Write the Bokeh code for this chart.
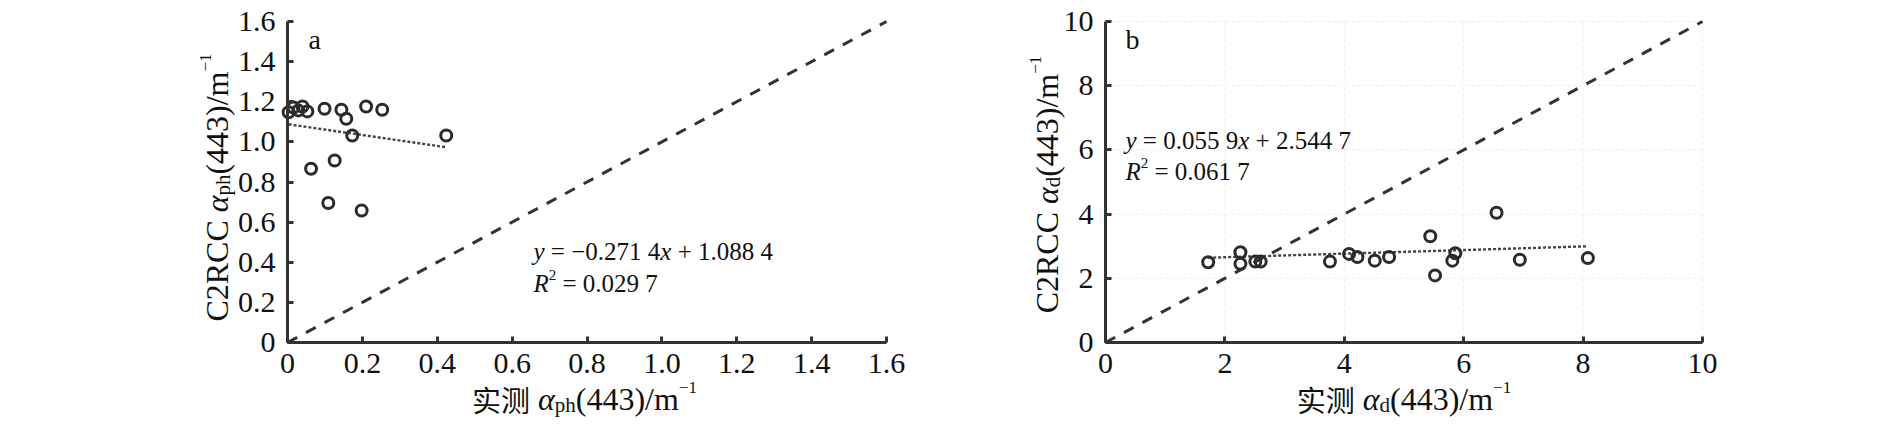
import math
from bokeh.plotting import figure
from bokeh.models import Label, FixedTicker, Range1d, NumeralTickFormatter
from bokeh.layouts import row
from bokeh.embed import file_html
from bokeh.resources import INLINE

# ---------------- data ----------------
# panel a: phytoplankton absorption a_ph(443)
aph_measured = [0.003, 0.016, 0.029, 0.040, 0.053, 0.099, 0.144, 0.157, 0.210, 0.253,
                0.173, 0.424, 0.063, 0.126, 0.109, 0.198]
aph_c2rcc = [1.148, 1.171, 1.157, 1.176, 1.152, 1.165, 1.160, 1.115, 1.176, 1.160,
             1.032, 1.032, 0.866, 0.907, 0.695, 0.658]
aph_fit = (-0.2714, 1.0884)
aph_r2 = "0.029 7"
aph_ticks = [0, 0.2, 0.4, 0.6, 0.8, 1.0, 1.2, 1.4, 1.6]

# panel b: detritus absorption a_d(443)
ad_measured = [1.72, 2.26, 2.26, 2.51, 2.60, 3.76, 4.08, 4.22, 4.51, 4.75,
               5.44, 5.52, 5.81, 5.86, 6.55, 6.94, 8.08]
ad_c2rcc = [2.50, 2.81, 2.45, 2.52, 2.52, 2.52, 2.76, 2.66, 2.55, 2.66,
            3.31, 2.09, 2.55, 2.78, 4.04, 2.58, 2.63]
ad_fit = (0.0559, 2.5447)
ad_r2 = "0.061 7"
ad_ticks = [0, 2, 4, 6, 8, 10]

INK = "#333333"
TXT = "#111111"
SERIF = "Liberation Serif"
CJK = "Noto Sans CJK SC"
NB = "\u00a0"
H = 430

REG = {' ': 0.25, NB: 0.25, '.': 0.25, '=': 0.564, '+': 0.564, '\u2212': 0.564,
       '(': 0.333, ')': 0.333, '/': 0.278, 'm': 0.778, 'p': 0.5, 'h': 0.5, 'd': 0.5,
       'C': 0.667, 'R': 0.667, 'a': 0.444, 'b': 0.5}
ITA = {'y': 0.444, 'x': 0.444, 'R': 0.611, '\u03b1': 0.52}


def seg_width(s, size, italic):
    w = 0.0
    for ch in s:
        if '\u4e00' <= ch <= '\u9fff':
            w += 1.0
        elif ch.isdigit():
            w += 0.5
        elif italic and ch in ITA:
            w += ITA[ch]
        else:
            w += REG.get(ch, 0.5)
    return w * size


def total_width(segs):
    return sum(seg_width(t, sz, it) for t, sz, it, sh, fn in segs)


def compose(p, segs, dx, dy, vertical=False):
    cum = 0.0
    for t, sz, it, sh, fn in segs:
        if vertical:
            xo, yo, ang = dx - sh, dy + cum, math.pi / 2
        else:
            xo, yo, ang = dx + cum, dy + sh, 0
        p.add_layout(Label(x=0, y=0, x_units="data", y_units="data",
                           x_offset=xo, y_offset=yo, text=t.replace(" ", NB), angle=ang,
                           text_font=fn, text_font_size=f"{sz}px",
                           text_font_style="italic" if it else "normal",
                           text_baseline="alphabetic", text_align="left",
                           text_color=TXT))
        cum += seg_width(t, sz, it)


F, S, U = 32, 21, 17


def ylabel_segs(sub):
    return [("C2RCC ", F, False, 0, SERIF), ("\u03b1", F, True, 0, SERIF),
            (sub, S, False, -6, SERIF), ("(443)/m", F, False, 0, SERIF),
            ("\u22121", U, False, 11, SERIF)]


def xlabel_segs(sub):
    return [("\u5b9e\u6d4b", 29, False, 0, CJK), (" ", F, False, 0, SERIF),
            ("\u03b1", F, True, 0, SERIF), (sub, S, False, -6, SERIF),
            ("(443)/m", F, False, 0, SERIF), ("\u22121", U, False, 11, SERIF)]


def style_axes(p, ticks, top, fmt=None, overrides=None):
    for ax in (p.xaxis[0], p.yaxis[0]):
        ax.ticker = FixedTicker(ticks=ticks)
        ax.fixed_location = 0
        ax.bounds = (0, top)
        if fmt is not None:
            ax.formatter = fmt
        if overrides:
            ax.major_label_overrides = overrides
        ax.axis_line_width = 3
        ax.axis_line_color = INK
        ax.major_tick_in = 6
        ax.major_tick_out = 0
        ax.major_tick_line_width = 3
        ax.major_tick_line_color = INK
        ax.minor_tick_line_color = None
        ax.major_label_text_font = SERIF
        ax.major_label_text_font_size = "30px"
        ax.major_label_text_color = TXT
        ax.axis_label = None
    p.xaxis[0].major_label_standoff = 11
    p.yaxis[0].major_label_standoff = 12


def make_panel(width, x0_px, y0_px, xpu, ypu, top, meas, c2, fit):
    # frame = whole canvas; pixel geometry -> data ranges
    xr = Range1d(-x0_px / xpu, (width - x0_px) / xpu)
    yr = Range1d(-(H - y0_px) / ypu, y0_px / ypu)
    p = figure(width=width, height=H, x_range=xr, y_range=yr,
               output_backend="svg", toolbar_location=None,
               min_border=0, min_border_left=0, min_border_right=0,
               min_border_top=0, min_border_bottom=0, outline_line_color=None,
               background_fill_color="white", border_fill_color="white")
    p.grid.grid_line_color = None
    # 1:1 line
    p.line([0, top], [0, top], line_color=INK, line_width=3, line_dash="11 10")
    # regression line
    a0, a1 = min(meas), max(meas)
    p.line([a0, a1], [fit[0] * a0 + fit[1], fit[0] * a1 + fit[1]],
           line_color="#444444", line_width=2.4, line_dash="3 2")
    p.scatter(meas, c2, marker="circle", size=11, fill_color=None,
              line_color="#2b2b2b", line_width=3)
    return p


# ---------------- panel a ----------------
pa = make_panel(1000, 287, 342, 374.375, 200.625, 1.6, aph_measured, aph_c2rcc, aph_fit)
style_axes(pa, aph_ticks, 1.6, NumeralTickFormatter(format="0.0"), {0: "0"})

ya = ylabel_segs("ph")
compose(pa, ya, -71, 155 - total_width(ya) / 2, vertical=True)
xa = xlabel_segs("ph")
compose(pa, xa, 297 - total_width(xa) / 2, -56)

compose(pa, [("a", 28, False, 0, SERIF)], 21, 303)
compose(pa, [("y", 25, True, 0, SERIF), (" = \u22120.271 4", 25, False, 0, SERIF),
             ("x", 25, True, 0, SERIF), (" + 1.088 4", 25, False, 0, SERIF)], 246, 91)
compose(pa, [("R", 25, True, 0, SERIF), ("2", 15, False, 9, SERIF),
             (" = " + aph_r2, 25, False, 0, SERIF)], 246, 59)

# ---------------- panel b ----------------
pb = make_panel(890, 105, 342, 59.7, 32.1, 10, ad_measured, ad_c2rcc, ad_fit)
style_axes(pb, ad_ticks, 10)
# faint dotted grid inside the data area
gx = [t for t in ad_ticks if t > 0]
pb.segment(x0=gx, y0=[0] * len(gx), x1=gx, y1=[10] * len(gx),
           line_color="#ececec", line_width=1, line_dash="3 3")
pb.segment(x0=[0] * len(gx), y0=gx, x1=[10] * len(gx), y1=gx,
           line_color="#ececec", line_width=1, line_dash="3 3")
# keep marks above the grid
pb.renderers = pb.renderers[-2:] + pb.renderers[:-2]

yb = ylabel_segs("d")
compose(pb, yb, -59, 158 - total_width(yb) / 2, vertical=True)
xb = xlabel_segs("d")
compose(pb, xb, 298.5 - total_width(xb) / 2, -56)

compose(pb, [("b", 28, False, 0, SERIF)], 20, 303)
compose(pb, [("y", 25, True, 0, SERIF), (" = 0.055 9", 25, False, 0, SERIF),
             ("x", 25, True, 0, SERIF), (" + 2.544 7", 25, False, 0, SERIF)], 20, 202)
compose(pb, [("R", 25, True, 0, SERIF), ("2", 15, False, 9, SERIF),
             (" = " + ad_r2, 25, False, 0, SERIF)], 20, 171)

layout = row(pa, pb)
open("out.html", "w").write(file_html(layout, INLINE))
